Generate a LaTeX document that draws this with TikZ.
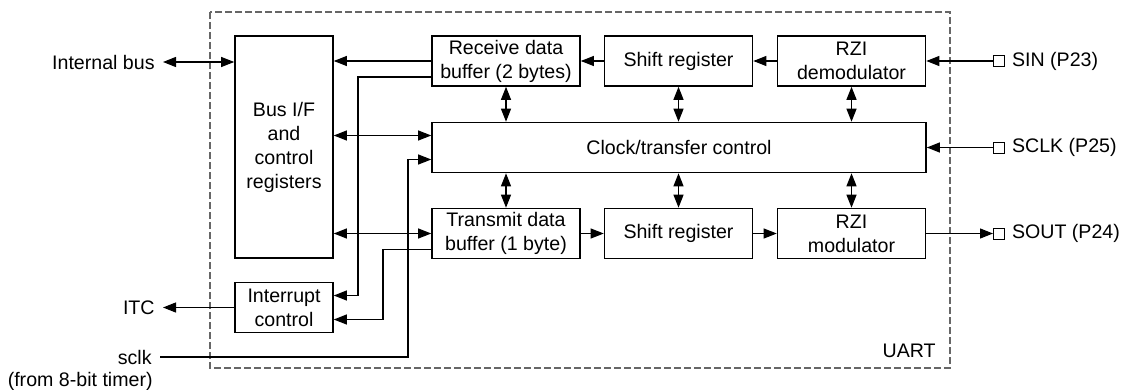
\documentclass[tikz,border=0pt]{standalone}
\usepackage{fontspec}
\setmainfont{Liberation Sans}
\usetikzlibrary{arrows.meta,calc}

\begin{document}
\begin{tikzpicture}[
  x=0.5pt,y=-0.5pt,
  >={Triangle[length=6.5pt,width=5pt]},
  font=\fontsize{9.8}{12}\selectfont,
  blk/.style={draw,line width=0.8pt,inner sep=0pt,align=center,
    minimum width=74pt,minimum height=25pt},
  pin/.style={draw,line width=0.5pt,minimum size=5.5pt,inner sep=0pt},
  lbl/.style={inner xsep=4pt,inner ysep=0pt},
  sig/.style={line width=0.55pt},
  frame/.style={line width=0.6pt,black!60,dash pattern=on 3.5pt off 1.5pt},
]
  \useasboundingbox (0,0) rectangle (1122,390);

  % Cadre UART
  \draw[frame] (210,12) rectangle (950,368);
  \node[anchor=south east,inner sep=0pt] (uart) at (936,358) {UART};

  % Blocs
  \node[blk,minimum width=49pt,minimum height=111pt] (bif) at (284,147)
    {Bus I/F\\and\\control\\registers};
  \node[blk] (rxbuf) at (506,61)    {Receive data\\buffer (2 bytes)};
  \node[blk] (rxsft) at (678.5,61)  {Shift register};
  \node[blk] (demod) at (851.5,61)  {RZI\\demodulator};
  \node[blk,minimum width=247pt] (ctl) at (679,147.5) {Clock/transfer control};
  \node[blk] (txbuf) at (506,233.5)   {Transmit data\\buffer (1 byte)};
  \node[blk] (txsft) at (678.5,233.5) {Shift register};
  \node[blk] (mod)   at (851.5,233.5) {RZI\\modulator};
  \node[blk,minimum width=49pt] (intc) at (284,307.5) {Interrupt\\control};

  % Broches
  \node[pin] (sin)     at (999,61)    {};
  \node[pin] (sclkpin) at (999,147.5) {};
  \node[pin] (sout)    at (999,233.5) {};
  \node[anchor=west] (sinlbl)  at (sin.east)     {SIN (P23)};
  \node[anchor=west] (sclklbl) at (sclkpin.east) {SCLK (P25)};
  \node[anchor=west] (soutlbl) at (sout.east)    {SOUT (P24)};

  % Signaux externes
  \node[lbl,anchor=east] (ibus) at (163,62)  {Internal bus};
  \node[lbl,anchor=east] (itc)  at (163,308) {ITC};
  \node[lbl,anchor=east] (sclk) at (160,357) {sclk};
  \node[anchor=east,inner sep=0pt] (tmr) at (153,381) {(from 8-bit timer)};

  % Points de derivation
  \coordinate (rxtap)  at (358,0);
  \coordinate (txtap)  at (383,0);
  \coordinate (clktap) at (408,0);

  % Liaisons
  \draw[sig,<->] (ibus.east) -- (ibus.east -| bif.west);
  \draw[sig,->] (rxbuf.west) -- (rxbuf.west -| bif.east);
  \draw[sig,<->] ([yshift=6pt]ctl.west -| bif.east) -- ([yshift=6pt]ctl.west);
  \draw[sig,<->] (txbuf.west -| bif.east) -- (txbuf.west);
  \draw[sig,->] ([yshift=-8pt]rxbuf.west) -| ([yshift=6pt]intc.east -| rxtap)
    -- ([yshift=6pt]intc.east);
  \draw[sig,->] ([yshift=-8pt]txbuf.west) -| ([yshift=-6pt]intc.east -| txtap)
    -- ([yshift=-6pt]intc.east);
  \draw[sig,->] (sclk.east) -| ([yshift=-6pt]ctl.west -| clktap)
    -- ([yshift=-6pt]ctl.west);
  \draw[sig,->] (intc.west) -- (intc.west -| itc.east);

  \draw[sig,->] (demod) -- (rxsft);
  \draw[sig,->] (rxsft) -- (rxbuf);
  \draw[sig,->] (txbuf) -- (txsft);
  \draw[sig,->] (txsft) -- (mod);

  \draw[sig,->] (sin) -- (demod);
  \draw[sig,->] (sclkpin) -- (ctl.east |- sclkpin);
  \draw[sig,->] (mod) -- (sout);

  \foreach \n in {rxbuf,rxsft,demod}
    \draw[sig,<->] (\n.south) -- (\n.south |- ctl.north);
  \foreach \n in {txbuf,txsft,mod}
    \draw[sig,<->] (\n.north) -- (\n.north |- ctl.south);
\end{tikzpicture}
\end{document}
